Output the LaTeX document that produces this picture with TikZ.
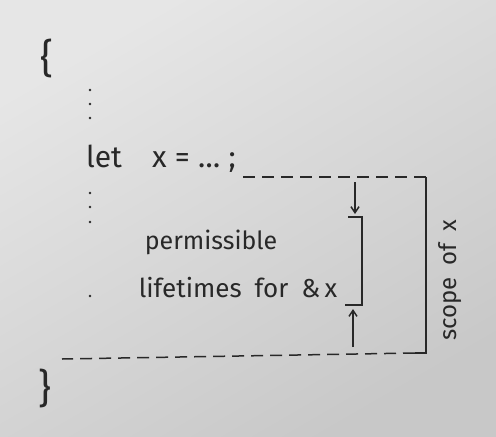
\documentclass[tikz,border=0pt]{standalone}
\usepackage{fontspec}
\setmainfont{Fira Sans}
\usetikzlibrary{arrows.meta}
\definecolor{ink}{RGB}{40,40,40}
\definecolor{paperlight}{RGB}{230,230,230}
\definecolor{paperdark}{RGB}{200,200,200}

\begin{document}
\begin{tikzpicture}[x=1pt, y=-1pt, every node/.style={text=ink, inner sep=0pt}, >={Straight Barb[length=6pt, width=8pt]},
	pen/.style={ink, line width=1.5pt}, guide/.style={pen, dash pattern=on 12pt off 7pt}]
	\shade[top color=paperlight, bottom color=paperdark, shading angle=30] (0,0) rectangle (496,437);
	\useasboundingbox (0,0) rectangle (496,437);
	\node[font=\fontsize{40}{40}\selectfont] (open) at (47,58) {\{};
	\node[font=\fontsize{40}{40}\selectfont] (close) at (45,388) {\}};
	\foreach \y in {90,104,118,193,207,222,296} \fill[ink] (90,\y) circle (1.4pt);
	\node[anchor=base west, font=\fontsize{30}{30}\selectfont] (let) at (86,167) {let\quad x\;=\;\dots\;;};
	\node[font=\fontsize{25}{25}\selectfont] (perm) at (211,242) {permissible};
	\node[font=\fontsize{26}{26}\selectfont] (life) at (238,288) {lifetimes\enspace for\enspace\&\,x};
	\node[font=\fontsize{24}{24}\selectfont, rotate=90] (scope) at (450,280) {scope\enspace of\enspace x};
	\coordinate (scopeStart) at (243,177);
	\coordinate (scopeTop) at (426,177);
	\coordinate (scopeBot) at (426,353);
	\coordinate (scopeFoot) at (415,353);
	\coordinate (scopeEnd) at (62,359);
	\draw[guide] (scopeStart) -- (scopeTop);
	\draw[pen] (scopeTop) -- (scopeBot) -- (scopeFoot);
	\draw[guide] (scopeFoot) -- (scopeEnd);
	\coordinate (lifeTop) at (362,217);
	\coordinate (lifeBot) at (362,305);
	\draw[pen] (348,217) -- (lifeTop) -- (lifeBot) -- (345,305);
	\draw[pen, ->] (355,182) -- (355,214);
	\draw[pen, ->] (353,347) -- (353,309);
\end{tikzpicture}
\end{document}
